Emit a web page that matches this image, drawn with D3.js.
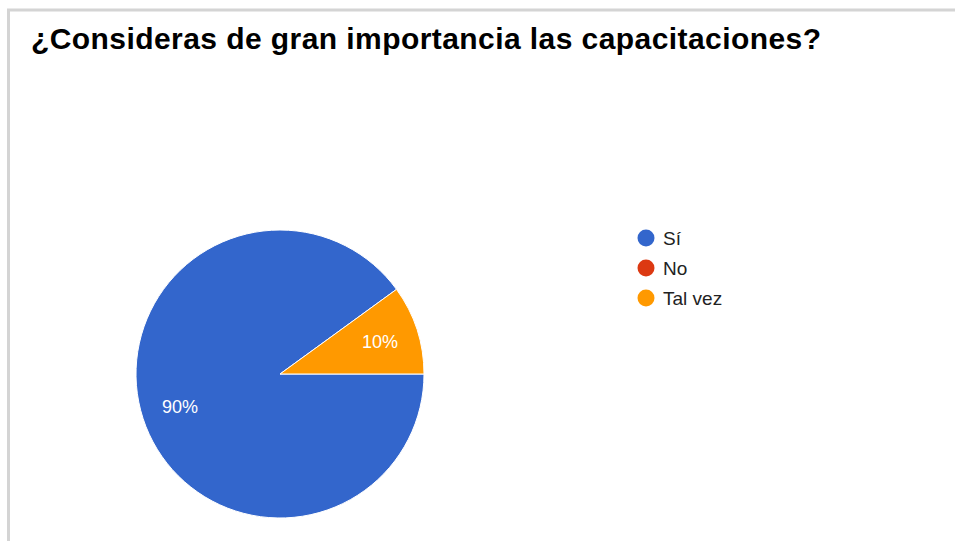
<!DOCTYPE html>
<html>
<head>
<meta charset="utf-8">
<script src="https://cdn.jsdelivr.net/npm/d3@7"></script>
<style>
  html, body { margin: 0; padding: 0; background: #fff; }
  svg { display: block; }
</style>
</head>
<body>
<div id="chart"></div>
<script>
var width = 955,
    height = 541;

var categories = ["Sí", "No", "Tal vez"];
var values = [90, 0, 10];
var colors = ["#3366cc", "#dc3912", "#ff9900"];
var title = "¿Consideras de gran importancia las capacitaciones?";

var svg = d3.select("#chart").append("svg")
    .attr("width", width)
    .attr("height", height);

// frame (top + left grey edge)
svg.append("path")
    .attr("d", "M8.5," + height + "V10H" + width)
    .attr("fill", "none")
    .attr("stroke", "#d4d4d4")
    .attr("stroke-width", 3);

svg.append("text")
    .attr("x", 31)
    .attr("y", 49)
    .attr("font-family", "Liberation Sans, Arial, sans-serif")
    .attr("font-weight", "bold")
    .attr("font-size", 30)
    .attr("fill", "#000")
    .attr("textLength", 790)
    .attr("lengthAdjust", "spacing")
    .text(title);

var data = categories.map(function(c, i) { return {name: c, value: values[i], color: colors[i]}; });

var radius = 144,
    cx = 280,
    cy = 374;

var pie = d3.pie()
    .sort(null)
    .value(function(d) { return d.value; })
    .startAngle(Math.PI / 2)
    .endAngle(Math.PI / 2 + 2 * Math.PI);

var arc = d3.arc().innerRadius(0).outerRadius(radius);
var labelArc = d3.arc().innerRadius(radius * 0.73).outerRadius(radius * 0.73);

var g = svg.append("g")
    .attr("transform", "translate(" + cx + "," + cy + ")");

var slices = pie(data).filter(function(d) { return d.data.value > 0; });

g.selectAll(".slice")
    .data(slices)
    .enter().append("path")
    .attr("class", "slice")
    .attr("d", arc)
    .attr("fill", function(d) { return d.data.color; })
    .attr("stroke", "#fff")
    .attr("stroke-width", 1);

var total = d3.sum(values);

g.selectAll(".lbl")
    .data(slices)
    .enter().append("text")
    .attr("class", "lbl")
    .attr("transform", function(d) { return "translate(" + labelArc.centroid(d) + ")"; })
    .attr("dy", "0.35em")
    .attr("text-anchor", "middle")
    .attr("font-family", "Liberation Sans, Arial, sans-serif")
    .attr("font-size", 18)
    .attr("fill", "#fff")
    .text(function(d) { return Math.round(d.data.value / total * 100) + "%"; });

// legend
var legend = svg.append("g")
    .attr("transform", "translate(646,238)");

var item = legend.selectAll(".item")
    .data(data)
    .enter().append("g")
    .attr("class", "item")
    .attr("transform", function(d, i) { return "translate(0," + (i * 30) + ")"; });

item.append("circle")
    .attr("r", 8.5)
    .attr("fill", function(d) { return d.color; });

item.append("text")
    .attr("x", 17)
    .attr("dy", "0.35em")
    .attr("font-family", "Liberation Sans, Arial, sans-serif")
    .attr("font-size", 19)
    .attr("fill", "#222")
    .text(function(d) { return d.name; });
</script>
</body>
</html>
